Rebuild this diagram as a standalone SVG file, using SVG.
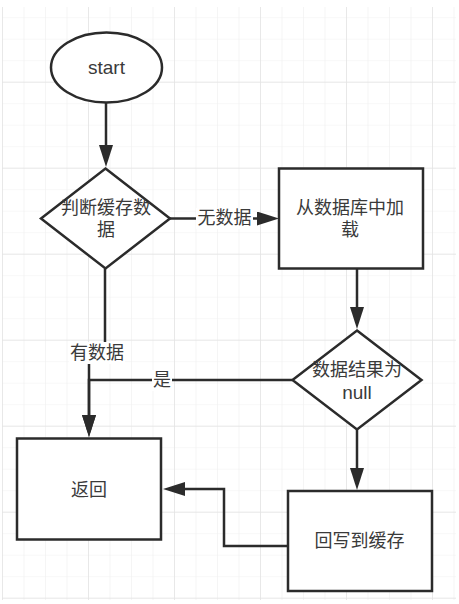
<svg xmlns="http://www.w3.org/2000/svg" width="459" height="604" viewBox="0 0 459 604">
<defs>
<pattern id="minor" patternUnits="userSpaceOnUse" x="2" y="17.2" width="21.5" height="21.5">
<path d="M0,0 H21.5 M0,0 V21.5" fill="none" stroke="#efefef" stroke-width="1.2"/>
</pattern>
<pattern id="major" patternUnits="userSpaceOnUse" x="2" y="-4.3" width="86" height="86">
<path d="M0,0 H86 M0,0 V86" fill="none" stroke="#e3e3e3" stroke-width="1.4"/>
</pattern>
<marker id="arr" markerUnits="userSpaceOnUse" markerWidth="22" markerHeight="14" refX="12" refY="7" orient="auto">
<path d="M0,0 L22,7 L0,14 z" fill="#2b2b2b"/>
</marker>
<style>
.shape{fill:#fff;stroke:#2b2b2b;stroke-width:2.5}
.edge{fill:none;stroke:#2b2b2b;stroke-width:2.5;marker-end:url(#arr)}
.t{font-family:"Liberation Sans","Noto Sans CJK SC",sans-serif;font-size:18px;fill:#3a3a3a;text-anchor:middle;dominant-baseline:central}
.bg{fill:#fff}
</style>
</defs>
<rect x="0" y="0" width="459" height="604" fill="#fff"/>
<rect x="2" y="7" width="454" height="593" fill="url(#minor)"/>
<rect x="2" y="7" width="454" height="593" fill="url(#major)"/>

<g id="connectors">
<path class="edge" d="M106,102.5 V157"/>
<path class="edge" d="M170,218.5 H269"/>
<path class="edge" d="M357,268.5 V319"/>
<path class="edge" d="M292.5,380 H89 V427"/>
<path class="edge" d="M105,268.5 V353 H89 V427"/>
<path class="edge" d="M357,429.5 V480"/>
<path class="edge" d="M288,546 H224 V489 H173"/>
<g id="edge-labels">
<rect class="bg" x="196" y="208" width="57" height="21"/>
<text class="t" x="224.5" y="218">无数据</text>
<rect class="bg" x="69" y="342" width="56" height="22"/>
<text class="t" x="97" y="353">有数据</text>
<rect class="bg" x="152" y="370" width="20" height="21"/>
<text class="t" x="162" y="380">是</text>
</g>
</g>

<g id="start">
<ellipse class="shape" cx="106.5" cy="67.5" rx="55.5" ry="35"/>
<text class="t" x="106.5" y="67" style="font-size:19px">start</text>
</g>
<g id="check-cache">
<polygon class="shape" points="105.5,168.5 170,218.5 105.5,268.5 41,218.5"/>
<text class="t" x="106" y="208"><tspan x="106" y="208">判断缓存数</tspan><tspan x="106" y="230">据</tspan></text>
</g>
<g id="load-db">
<rect class="shape" x="279" y="168.5" width="144" height="100"/>
<text class="t" x="350" y="208"><tspan x="350" y="208">从数据库中加</tspan><tspan x="350" y="230">载</tspan></text>
</g>
<g id="check-null">
<polygon class="shape" points="357,330.5 421.5,380 357,429.5 292.5,380"/>
<text class="t" x="357" y="370"><tspan x="357" y="370">数据结果为</tspan><tspan x="357" y="392" style="font-size:19px">null</tspan></text>
</g>
<g id="return">
<rect class="shape" x="17" y="438.5" width="144" height="101"/>
<text class="t" x="89" y="490">返回</text>
</g>
<g id="write-cache">
<rect class="shape" x="288" y="491" width="144" height="100"/>
<text class="t" x="359.5" y="541">回写到缓存</text>
</g>
</svg>
